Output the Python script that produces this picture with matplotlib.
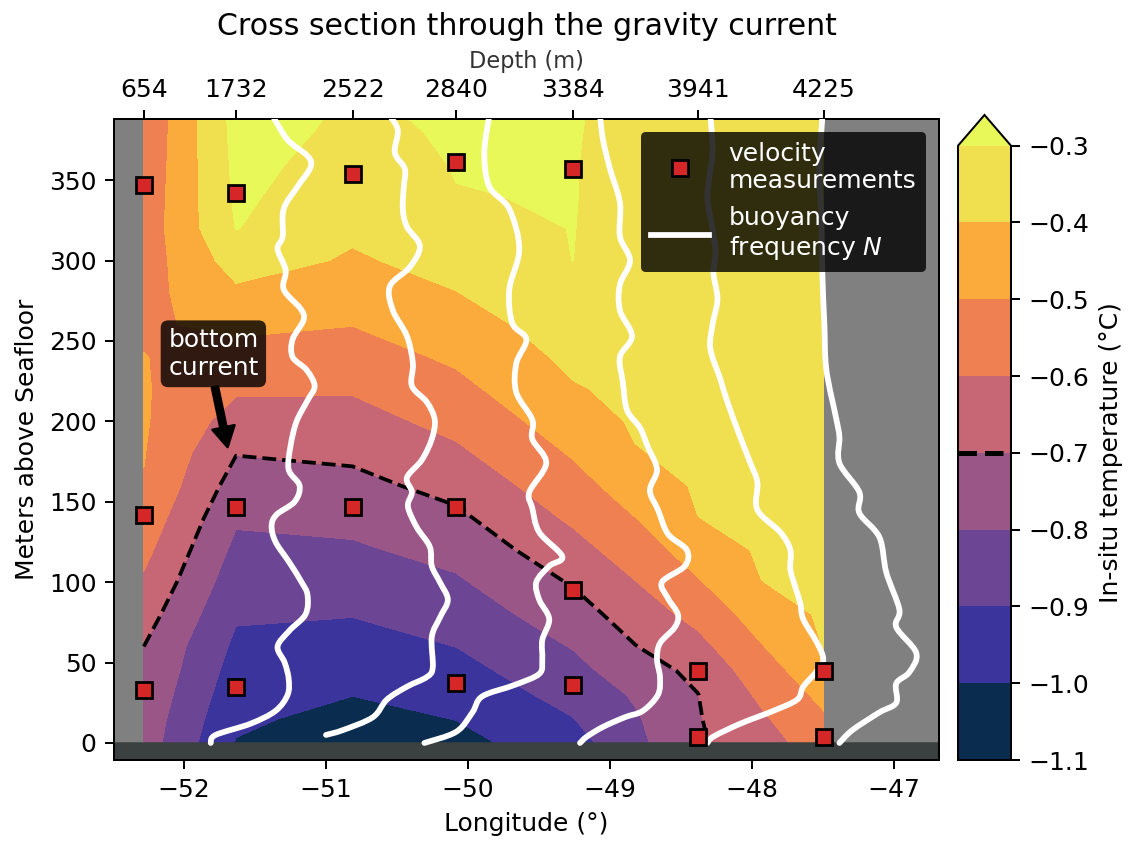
import numpy as np
import matplotlib
matplotlib.use('Agg')
import matplotlib.pyplot as plt
from matplotlib.colors import ListedColormap
from matplotlib.lines import Line2D
from matplotlib.path import Path
from matplotlib.patches import PathPatch

# stations along the section (longitude) and their bottom depth
station_lon = [-52.28, -51.63, -50.81, -50.08, -49.26, -48.38, -47.49]
station_depth = [654, 1732, 2522, 2840, 3384, 3941, 4225]

# temperature grid: station columns plus two extra columns in the deep part
grid_lon = [-52.28, -51.63, -50.81, -50.08, -49.26, -48.82, -48.38, -47.93, -47.49]
grid_hab = [0, 15, 30, 45, 60, 80, 100, 120, 140, 160, 180, 200, 220, 240, 260,
            280, 300, 320, 340, 360, 380, 400]

temp_654 = [-0.75, -0.74, -0.725, -0.71, -0.70, -0.657, -0.613, -0.574, -0.537, -0.505,
            -0.496, -0.49, -0.492, -0.498, -0.512, -0.532, -0.55, -0.558, -0.566, -0.574,
            -0.582, -0.59]
temp_1732 = [-1.005, -0.983, -0.961, -0.94, -0.919, -0.889, -0.856, -0.823, -0.787, -0.742,
             -0.697, -0.642, -0.587, -0.534, -0.479, -0.418, -0.356, -0.297, -0.285, -0.278,
             -0.27, -0.265]
temp_2522 = [-1.06, -1.03, -0.998, -0.969, -0.937, -0.896, -0.855, -0.814, -0.771, -0.727,
             -0.682, -0.636, -0.591, -0.544, -0.498, -0.454, -0.411, -0.384, -0.352, -0.33,
             -0.315, -0.305]
temp_2840 = [-1.03, -0.998, -0.965, -0.933, -0.899, -0.857, -0.813, -0.767, -0.719, -0.669,
             -0.618, -0.571, -0.527, -0.484, -0.443, -0.402, -0.368, -0.335, -0.302, -0.297,
             -0.293, -0.29]
temp_3384 = [-0.94, -0.903, -0.867, -0.831, -0.795, -0.744, -0.692, -0.636, -0.584, -0.537,
             -0.492, -0.45, -0.408, -0.379, -0.352, -0.325, -0.2995, -0.298, -0.297, -0.297,
             -0.296, -0.295]
temp_mid_a = [-0.826, -0.811, -0.789, -0.746, -0.703, -0.653, -0.603, -0.551, -0.501, -0.452,
              -0.405, -0.389, -0.378, -0.366, -0.356, -0.348, -0.34, -0.335, -0.33, -0.325,
              -0.32, -0.315]
temp_3941 = [-0.712, -0.707, -0.702, -0.676, -0.63, -0.57, -0.509, -0.454, -0.401, -0.39,
             -0.38, -0.372, -0.365, -0.358, -0.352, -0.346, -0.341, -0.337, -0.333, -0.329,
             -0.325, -0.322]
temp_mid_b = [-0.64, -0.614, -0.582, -0.544, -0.505, -0.453, -0.401, -0.388, -0.376, -0.367,
              -0.361, -0.355, -0.352, -0.349, -0.346, -0.343, -0.34, -0.338, -0.336, -0.334,
              -0.332, -0.33]
temp_4225 = [-0.55, -0.512, -0.474, -0.434, -0.397, -0.387, -0.378, -0.371, -0.365, -0.36,
             -0.356, -0.352, -0.349, -0.346, -0.344, -0.342, -0.34, -0.338, -0.336, -0.334,
             -0.332, -0.33]

levels = [-1.1, -1.0, -0.9, -0.8, -0.7, -0.6, -0.5, -0.4, -0.3]
band_colors = ['#0a2c4f', '#3a349c', '#6c4694', '#9b5688', '#c76674',
               '#ef8051', '#fbaa3c', '#f0df4e']
over_color = '#e8f858'

# velocity measurements (longitude, meters above bottom)
vel_lon = [-52.28, -52.28, -52.28, -51.63, -51.63, -51.63, -50.81, -50.81,
           -50.08, -50.08, -50.08, -49.26, -49.26, -49.26, -48.38, -48.38, -47.49, -47.49]
vel_hab = [347, 142, 33, 342, 147, 35, 354, 147, 361, 147, 37, 357, 95, 36, 45, 4, 45, 4]

# buoyancy frequency profiles (1e-3 s^-1), drawn as station lon + N
n1_hab = [0, 5, 12, 20, 30, 40, 50, 60, 70, 80, 92, 100, 112, 125, 135, 142, 150, 160, 170,
          185, 200, 213, 222, 232, 240, 251, 263, 270, 282, 294, 307, 315, 332, 346, 358,
          365, 375, 390]
n1 = [0.471, 0.506, 0.752, 0.928, 1.013, 1.020, 0.992, 0.942, 1.027, 1.139, 1.153, 1.111,
      1.027, 0.928, 0.900, 0.935, 1.062, 1.097, 1.020, 1.034, 1.076, 1.153, 1.203, 1.146,
      1.048, 1.048, 1.125, 1.104, 0.985, 0.999, 0.942, 0.978, 0.985, 1.083, 1.174, 1.153,
      1.013, 0.907]
n2_hab = [5, 8, 16, 27, 35, 41, 47, 66, 78, 89, 100, 110, 122, 134, 147, 156, 165, 176, 189,
          201, 212, 222, 236, 253, 269, 284, 296, 309, 321, 332, 346, 357, 367, 381, 390]
n2 = [0.633, 0.752, 0.963, 1.062, 1.203, 1.343, 1.385, 1.378, 1.435, 1.491, 1.435, 1.378,
      1.364, 1.273, 1.210, 1.238, 1.203, 1.308, 1.378, 1.399, 1.343, 1.238, 1.245, 1.203,
      1.104, 1.083, 1.224, 1.294, 1.203, 1.174, 1.181, 1.188, 1.118, 1.139, 1.083]
n3_hab = [0, 7, 19, 29, 36, 43, 52, 64, 77, 89, 100, 110, 116, 131, 146, 156, 174, 189, 201,
          218, 236, 251, 261, 282, 307, 332, 346, 367, 390]
n3 = [0.506, 0.731, 0.844, 0.914, 1.139, 1.315, 1.336, 1.336, 1.385, 1.315, 1.294, 1.385,
      1.477, 1.315, 1.266, 1.245, 1.364, 1.266, 1.266, 1.153, 1.153, 1.224, 1.125, 1.104,
      1.174, 1.104, 0.963, 0.928, 0.963]
n4_hab = [0, 4, 10, 16, 20, 30, 41, 52, 62, 72, 80, 90, 100, 110, 120, 130, 145, 157, 170,
          184, 196, 207, 224, 240, 253, 269, 285, 300, 315, 336, 357, 375, 390]
n4 = [0.872, 0.921, 1.034, 1.188, 1.315, 1.421, 1.435, 1.414, 1.435, 1.540, 1.561, 1.491,
      1.449, 1.610, 1.624, 1.491, 1.421, 1.364, 1.414, 1.350, 1.294, 1.203, 1.174, 1.153,
      1.238, 1.153, 1.153, 1.224, 1.153, 1.153, 1.083, 1.034, 1.013]
n5_hab = [0, 4, 12, 20, 27, 35, 45, 52, 62, 77, 87, 97, 108, 120, 131, 145, 162, 174, 190,
          212, 226, 245, 260, 276, 292, 305, 320, 340, 367, 390]
n5 = [0.949, 0.992, 1.181, 1.414, 1.582, 1.624, 1.723, 1.765, 1.723, 1.624, 1.603, 1.568,
      1.533, 1.533, 1.463, 1.301, 1.301, 1.252, 1.181, 1.090, 1.041, 0.970, 0.985, 1.020,
      0.992, 1.006, 0.985, 0.949, 0.985, 0.970]
n6_hab = [0, 8, 19, 25, 37, 44, 56, 72, 83, 106, 128, 143, 156, 174, 190, 201, 232, 260, 290,
          325, 357, 390]
n6 = [0.999, 1.090, 1.280, 1.399, 1.399, 1.491, 1.540, 1.399, 1.421, 1.329, 1.280, 1.139,
      1.139, 0.999, 0.999, 0.978, 0.907, 0.893, 0.879, 0.872, 0.858, 0.879]

profiles = [(n1_hab, n1), (n2_hab, n2), (n3_hab, n3), (n4_hab, n4), (n5_hab, n5), (n6_hab, n6)]


def smooth_path(x, y):
    # bezier path through the points (catmull-rom style), only for drawing
    pts = np.column_stack([x, y])
    verts = [pts[0]]
    codes = [Path.MOVETO]
    for i in range(len(pts) - 1):
        p0 = pts[max(i - 1, 0)]
        p1 = pts[i]
        p2 = pts[i + 1]
        p3 = pts[min(i + 2, len(pts) - 1)]
        verts += [p1 + (p2 - p0) / 6, p2 - (p3 - p1) / 6, p2]
        codes += [Path.CURVE4] * 3
    return Path(verts, codes)


fig = plt.figure(figsize=(1132 / 180, 841 / 180), dpi=180)
ax = fig.add_axes([0.1007, 0.0963, 0.7288, 0.7622])
cax = fig.add_axes([0.8463, 0.0963, 0.0468, 0.767])

ax.set_facecolor('#808080')

temp = np.column_stack([temp_654, temp_1732, temp_2522, temp_2840, temp_3384,
                        temp_mid_a, temp_3941, temp_mid_b, temp_4225])
cmap = ListedColormap(band_colors)
cmap.set_over(over_color)
cf = ax.contourf(grid_lon, grid_hab, temp, levels=levels, cmap=cmap, extend='max', zorder=1)
cs = ax.contour(grid_lon, grid_hab, temp, levels=[-0.7], colors='k',
                linestyles='--', linewidths=1.5, zorder=2)

ax.axhspan(-20, 0, color='#3b4141', zorder=2.5)

for k, (hab, n) in enumerate(profiles):
    x = station_lon[k] + np.array(n)
    ax.add_patch(PathPatch(smooth_path(x, hab), fill=False, ec='w', lw=2.3,
                           capstyle='round', joinstyle='round', zorder=3))

ax.plot(vel_lon, vel_hab, ls='none', marker='s', ms=6.5, mfc='#d62728', mec='k', mew=1.1, zorder=5)

ax.annotate('bottom\ncurrent', xy=(-51.69, 184), xytext=(-51.79, 242),
            ha='center', va='center', color='w', fontsize=10,
            bbox=dict(boxstyle='round', fc='k', ec='none', alpha=0.8),
            arrowprops=dict(facecolor='k', edgecolor='k', width=2.5, headwidth=9, headlength=8),
            zorder=6)

ax.set_xlim(-52.49, -46.68)
ax.set_ylim(-10.6, 388)
ax.set_xticks(range(-52, -46))
ax.set_yticks(range(0, 351, 50))
ax.set_xlabel('Longitude (°)')
ax.set_ylabel('Meters above Seafloor')

secax = ax.secondary_xaxis('top')
secax.set_xticks(station_lon, labels=[str(d) for d in station_depth])
secax.set_xlabel('Depth (m)', fontsize=9, color='#333333')

ax.set_title('Cross section through the gravity current', fontsize=12)

handles = [Line2D([], [], marker='s', ls='none', mfc='#d62728', mec='k', mew=1.1, ms=6.5),
           Line2D([], [], color='w', lw=2.3)]
leg = ax.legend(handles, ['velocity\nmeasurements', 'buoyancy\nfrequency $N$'],
                loc='upper right', facecolor='k', framealpha=0.8, edgecolor='none',
                labelcolor='w', fontsize=10, handlelength=2.3)
leg.set_zorder(10)

cbar = fig.colorbar(cf, cax=cax, ticks=levels)
cbar.add_lines(levels=[-0.7], colors=['k'], linewidths=[2])
cbar.lines[-1].set_linestyle('--')
cbar.set_label('In-situ temperature (°C)')

fig.savefig('out.png', dpi=180)
